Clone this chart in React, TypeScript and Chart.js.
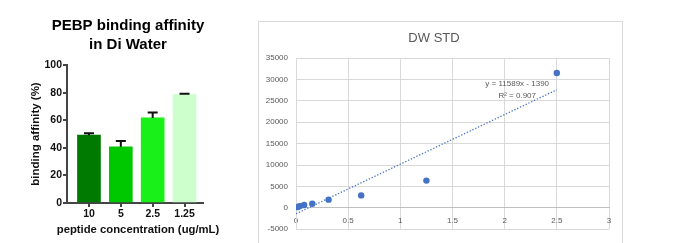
import React, { useEffect, useRef } from "react";
import { Chart, registerables } from "chart.js";

Chart.register(...registerables);

// ---- Left chart data (PEBP binding affinity) ----
const concLabels = ["10", "5", "2.5", "1.25"];
const concPositions = [0, 1, 2, 3];
const affinityMean = [49.2, 40.7, 61.7, 78.6];
const affinityErr = [1.3, 4.2, 4.0, 0.7];
const barColors = ["#007A00", "#00C800", "#19F019", "#CCFFCC"];
const affinityTicks = [0, 20, 40, 60, 80, 100];
const xAxisTitle = "peptide concentration (ug/mL)";

// ---- Right chart data (DW STD) ----
const stdX = [0.0098, 0.0195, 0.039, 0.078, 0.156, 0.3125, 0.625, 1.25, 2.5];
const stdY = [150, 250, 400, 650, 950, 1900, 2900, 6350, 31500];
const trendX = [0, 2.5];
const trendY = [-1390, 27582];
const eqText = ["y = 11589x - 1390", "R\u00B2 = 0.907"];
const eqAnchorX = 2.12;
const eqAnchorY = [28960, 26140];

const LEFT_FONT = "'Liberation Sans', Arial, sans-serif";
const RIGHT_FONT = "'Liberation Sans', Arial, sans-serif";

function LeftChart() {
  const ref = useRef<HTMLCanvasElement>(null);
  useEffect(() => {
    const canvas = ref.current!;
    const errorBars = {
      id: "errorBars",
      afterDatasetsDraw(chart: any) {
        const meta = chart.getDatasetMeta(0);
        const yScale = chart.scales.y;
        const ctx = chart.ctx;
        ctx.save();
        ctx.strokeStyle = "#111";
        ctx.lineWidth = 2;
        meta.data.forEach((el: any, i: number) => {
          const top = yScale.getPixelForValue(affinityMean[i] + affinityErr[i]);
          ctx.beginPath();
          ctx.moveTo(el.x, el.y);
          ctx.lineTo(el.x, top);
          ctx.moveTo(el.x - 5, top);
          ctx.lineTo(el.x + 5, top);
          ctx.stroke();
        });
        ctx.restore();
      },
    };
    const xTitle = {
      id: "xTitle",
      afterDraw(chart: any) {
        const ctx = chart.ctx;
        const xs = chart.scales.x;
        ctx.save();
        ctx.fillStyle = "#111";
        ctx.font = `bold 11.3px ${LEFT_FONT}`;
        ctx.textAlign = "center";
        ctx.textBaseline = "middle";
        ctx.fillText(xAxisTitle, (xs.left + xs.right) / 2 + 3, xs.bottom - 13);
        ctx.restore();
      },
    };
    const chart = new Chart(canvas, {
      type: "bar",
      data: {
        datasets: [
          {
            data: concPositions.map((x, i) => ({ x, y: affinityMean[i] })),
            backgroundColor: barColors,
            borderWidth: 0,
            barThickness: 23,
          },
        ],
      },
      options: {
        responsive: false,
        animation: false,
        layout: { padding: { left: 0, right: 0, top: 0, bottom: 0 } },
        plugins: {
          legend: { display: false },
          tooltip: { enabled: false },
          title: {
            display: true,
            text: ["PEBP binding affinity", "in Di Water"],
            color: "#000",
            font: { family: LEFT_FONT, size: 15, weight: "bold", lineHeight: 1.27 },
            padding: { top: 16, bottom: 11 },
          },
        },
        scales: {
          x: {
            type: "linear",
            offset: false,
            min: -0.69,
            max: 3.58,
            afterBuildTicks: (s: any) => {
              s.ticks = concPositions.map((v) => ({ value: v }));
            },
            afterFit: (s: any) => {
              s.height = 40;
            },
            ticks: {
              callback: (v: any) => concLabels[v] ?? "",
              color: "#111",
              font: { family: LEFT_FONT, size: 10.5, weight: "bold" },
              padding: 1,
              maxRotation: 0,
              autoSkip: false,
            },
            grid: { offset: false, drawOnChartArea: false, drawTicks: true, tickLength: 4, color: "#444", lineWidth: 2 },
            border: { display: true, color: "#444", width: 2 },
          },
          y: {
            min: 0,
            max: 100,
            afterBuildTicks: (s: any) => {
              s.ticks = affinityTicks.map((v) => ({ value: v }));
            },
            afterFit: (s: any) => {
              s.width = 67;
            },
            ticks: {
              color: "#111",
              font: { family: LEFT_FONT, size: 10.5, weight: "bold" },
              padding: 1,
            },
            grid: { drawOnChartArea: false, drawTicks: true, tickLength: 4, color: "#444", lineWidth: 2 },
            border: { display: true, color: "#444", width: 2 },
            title: {
              display: true,
              text: "binding affinity (%)",
              color: "#111",
              font: { family: LEFT_FONT, size: 11.5, weight: "bold" },
              padding: { top: 29.1, bottom: 0 },
            },
          },
          yRightSpacer: {
            type: "linear",
            position: "right",
            display: true,
            min: 0,
            max: 100,
            afterFit: (s: any) => {
              s.width = 53;
            },
            ticks: { display: false },
            grid: { display: false },
            border: { display: false },
          },
        },
      } as any,
      plugins: [errorBars, xTitle],
    });
    return () => chart.destroy();
  }, []);
  return (
    <canvas
      ref={ref}
      width={256}
      height={243}
      style={{ position: "absolute", left: 0, top: 0, width: 256, height: 243 }}
    />
  );
}

function RightChart() {
  const ref = useRef<HTMLCanvasElement>(null);
  useEffect(() => {
    const canvas = ref.current!;
    const eqLabel = {
      id: "eqLabel",
      afterDatasetsDraw(chart: any) {
        const ctx = chart.ctx;
        const xs = chart.scales.x;
        const ys = chart.scales.y;
        ctx.save();
        ctx.fillStyle = "#595959";
        ctx.font = `8px ${RIGHT_FONT}`;
        ctx.textAlign = "center";
        ctx.textBaseline = "middle";
        eqText.forEach((t, i) => {
          ctx.fillText(t, xs.getPixelForValue(eqAnchorX), ys.getPixelForValue(eqAnchorY[i]));
        });
        ctx.restore();
      },
    };
    const chart = new Chart(canvas, {
      type: "scatter",
      data: {
        datasets: [
          {
            type: "line",
            data: trendX.map((x, i) => ({ x, y: trendY[i] })),
            borderColor: "#4472C4",
            borderWidth: 1.3,
            borderDash: [1.3, 1.8],
            pointRadius: 0,
            fill: false,
          },
          {
            data: stdX.map((x, i) => ({ x, y: stdY[i] })),
            backgroundColor: "#4472C4",
            borderColor: "#4472C4",
            borderWidth: 0,
            pointRadius: 3.2,
          },
        ],
      },
      options: {
        responsive: false,
        animation: false,
        layout: { padding: { left: 0, right: 13, top: 0, bottom: 0 } },
        plugins: {
          legend: { display: false },
          tooltip: { enabled: false },
          title: {
            display: true,
            text: "DW STD",
            color: "#595959",
            font: { family: RIGHT_FONT, size: 13, weight: "normal" },
            padding: { top: 8.2, bottom: 12.2 },
          },
        },
        scales: {
          x: {
            type: "linear",
            position: { y: 0 },
            min: 0,
            max: 3,
            afterFit: (s: any) => {
              s.height = 22;
            },
            ticks: {
              stepSize: 0.5,
              callback: (v: any) => String(v),
              color: "#595959",
              font: { family: RIGHT_FONT, size: 8 },
              padding: 8,
              maxRotation: 0,
            },
            grid: { color: "#d9d9d9", lineWidth: 1, drawTicks: false },
            border: { display: true, color: "#bfbfbf", width: 1 },
          },
          y: {
            min: -5000,
            max: 35000,
            afterFit: (s: any) => {
              s.width = 37;
            },
            ticks: {
              stepSize: 5000,
              callback: (v: any) => String(v),
              color: "#595959",
              font: { family: RIGHT_FONT, size: 8 },
              padding: 8,
            },
            grid: { color: "#d9d9d9", lineWidth: 1, drawTicks: false },
            border: { display: true, color: "#d9d9d9", width: 1 },
          },
        },
      } as any,
      plugins: [eqLabel],
    });
    return () => chart.destroy();
  }, []);
  return (
    <div
      style={{
        position: "absolute",
        left: 258,
        top: 21,
        width: 365,
        height: 230,
        border: "1px solid #d9d9d9",
        boxSizing: "border-box",
        background: "#fff",
      }}
    >
      <canvas
        ref={ref}
        width={363}
        height={220}
        style={{ position: "absolute", left: 0, top: 0, width: 363, height: 220 }}
      />
    </div>
  );
}

export default function App() {
  return (
    <div
      style={{
        position: "fixed",
        left: 0,
        top: 0,
        width: 673,
        height: 243,
        background: "#fff",
        overflow: "hidden",
      }}
    >
      <LeftChart />
      <RightChart />
    </div>
  );
}
